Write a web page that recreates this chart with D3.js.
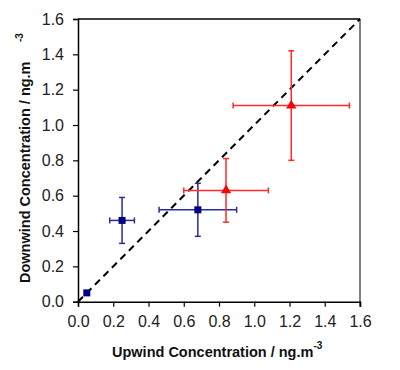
<!DOCTYPE html>
<html><head><meta charset="utf-8">
<script src="https://cdn.jsdelivr.net/npm/d3@7"></script>
<style>body{margin:0;background:#fff}svg{display:block}</style>
</head><body>
<script>
const ticks = [0.0,0.2,0.4,0.6,0.8,1.0,1.2,1.4,1.6];
const blueX  = [0.05, 0.25, 0.68];
const blueY  = [0.05, 0.46, 0.52];
const blueXlo = [0.05, 0.18, 0.46];
const blueXhi = [0.05, 0.32, 0.90];
const blueYlo = [0.05, 0.33, 0.37];
const blueYhi = [0.05, 0.59, 0.67];
const redX  = [0.84, 1.21];
const redY  = [0.63, 1.11];
const redXlo = [0.60, 0.88];
const redXhi = [1.08, 1.54];
const redYlo = [0.45, 0.80];
const redYhi = [0.81, 1.42];
const oneToOne = [0, 1.6];

const W=400,H=370;
const L=78,R=360,T=19,B=301.7;
const svg=d3.select("body").append("svg").attr("width",W).attr("height",H);
const x=d3.scaleLinear().domain([0,1.6]).range([L,R]);
const y=d3.scaleLinear().domain([0,1.6]).range([B,T]);

// borders
svg.append("line").attr("x1",L).attr("x2",R).attr("y1",T).attr("y2",T).attr("stroke","#000").attr("stroke-width",1.5);
svg.append("line").attr("x1",R).attr("x2",R).attr("y1",T).attr("y2",B+5).attr("stroke","#808080").attr("stroke-width",2);

const fmt=d3.format(".1f");
const xa=svg.append("g").attr("transform",`translate(0,${B})`)
  .call(d3.axisBottom(x).tickValues(ticks).tickFormat(fmt).tickSize(5).tickPadding(9));
const ya=svg.append("g").attr("transform",`translate(${L},0)`)
  .call(d3.axisLeft(y).tickValues(ticks).tickFormat(fmt).tickSize(5).tickPadding(9));
[xa,ya].forEach(a=>{
  a.selectAll("path").attr("stroke","#000").attr("stroke-width",1.5);
  a.selectAll("line").attr("stroke","#000").attr("stroke-width",1.2);
  a.selectAll("text").attr("font-family","Liberation Sans, Arial, sans-serif").attr("font-size",16).attr("fill","#222");
});

// 1:1 dashed
svg.append("line").attr("x1",x(oneToOne[0])).attr("y1",y(oneToOne[0])).attr("x2",x(oneToOne[1])).attr("y2",y(oneToOne[1]))
  .attr("stroke","#000").attr("stroke-width",2).attr("stroke-dasharray","7,5");

function errs(xs,ys,xlo,xhi,ylo,yhi,col){
  const g=svg.append("g").attr("stroke",col).attr("stroke-width",1.5);
  const c=3;
  xs.forEach((v,i)=>{
    if(xlo[i]!==xhi[i]){
      g.append("line").attr("x1",x(xlo[i])).attr("x2",x(xhi[i])).attr("y1",y(ys[i])).attr("y2",y(ys[i]));
      g.append("line").attr("x1",x(xlo[i])).attr("x2",x(xlo[i])).attr("y1",y(ys[i])-c).attr("y2",y(ys[i])+c);
      g.append("line").attr("x1",x(xhi[i])).attr("x2",x(xhi[i])).attr("y1",y(ys[i])-c).attr("y2",y(ys[i])+c);
    }
    if(ylo[i]!==yhi[i]){
      g.append("line").attr("x1",x(v)).attr("x2",x(v)).attr("y1",y(ylo[i])).attr("y2",y(yhi[i]));
      g.append("line").attr("x1",x(v)-c).attr("x2",x(v)+c).attr("y1",y(ylo[i])).attr("y2",y(ylo[i]));
      g.append("line").attr("x1",x(v)-c).attr("x2",x(v)+c).attr("y1",y(yhi[i])).attr("y2",y(yhi[i]));
    }
  });
}
errs(blueX,blueY,blueXlo,blueXhi,blueYlo,blueYhi,"#2b2b9a");
errs(redX,redY,redXlo,redXhi,redYlo,redYhi,"#ff2a2a");

svg.append("g").selectAll("rect").data(blueX).join("rect")
  .attr("x",(d)=>x(d)-3.5).attr("y",(d,i)=>y(blueY[i])-3.5).attr("width",7).attr("height",7).attr("fill","#000080");
svg.append("g").selectAll("path").data(redX).join("path")
  .attr("transform",(d,i)=>`translate(${x(d)},${y(redY[i])})`)
  .attr("d",d3.symbol(d3.symbolTriangle,45)).attr("fill","#ff0000");

// axis titles
const ff="Liberation Sans, Arial, sans-serif";
const xt=svg.append("text").attr("x",112).attr("y",357).attr("font-family",ff).attr("font-size",14.5).attr("font-weight","bold").attr("fill","#111");
xt.append("tspan").text("Upwind Concentration / ng.m");
xt.append("tspan").attr("dy",-8).attr("font-size",10).text("-3");

svg.append("text").attr("transform","translate(30,283) rotate(-90)").attr("font-family",ff).attr("font-size",14.5).attr("font-weight","bold").attr("fill","#111")
  .text("Downwind Concentration / ng.m");
svg.append("text").attr("transform","translate(23,42) rotate(-90)").attr("font-family",ff).attr("font-size",10).attr("font-weight","bold").attr("fill","#111")
  .text("-3");
</script>
</body></html>
